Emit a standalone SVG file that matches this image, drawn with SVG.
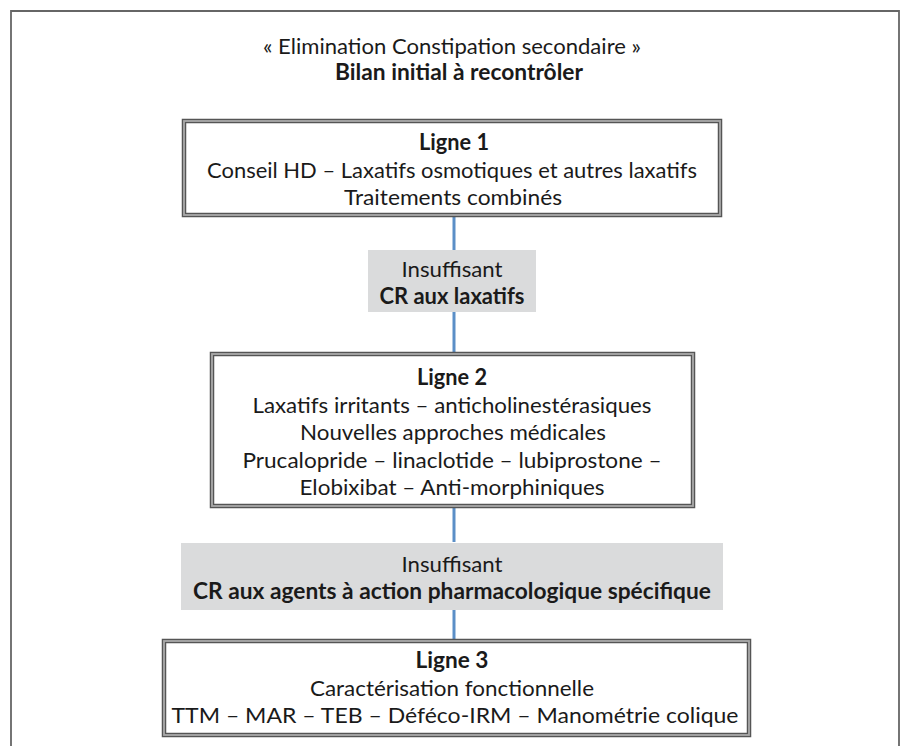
<svg xmlns="http://www.w3.org/2000/svg" width="906" height="746" viewBox="0 0 906 746">
<style>
text{font-family:Lato,"Open Sans","Liberation Sans",sans-serif;font-size:22px;fill:#1a1a1a;text-anchor:middle}
.b{font-weight:bold}
.box{fill:#fff;stroke:#555;stroke-width:4.5}
.boxin{fill:none;stroke:#aaa;stroke-width:1.8}
.grey{fill:#dadbdc}
.conn{stroke:#5b8fc7;stroke-width:3;fill:none}
</style>
<rect width="906" height="746" fill="#fff"/>
<path d="M11,760 V11 H899 V760" fill="none" stroke="#666" stroke-width="1.8"/>
<g id="title">
<text x="452" y="54" textLength="378" lengthAdjust="spacingAndGlyphs">« Elimination Constipation secondaire »</text>
<text class="b" x="459" y="80" textLength="248" lengthAdjust="spacingAndGlyphs">Bilan initial à recontrôler</text>
</g>
<g id="connectors">
<line class="conn" x1="454" y1="217" x2="454" y2="250"/>
<line class="conn" x1="454" y1="312" x2="454" y2="353"/>
<line class="conn" x1="454" y1="508" x2="454" y2="542"/>
<line class="conn" x1="454" y1="610" x2="454" y2="640"/>
</g>
<g id="ligne1">
<rect class="box" x="184" y="121" width="536" height="94"/>
<rect class="boxin" x="184" y="121" width="536" height="94"/>
<text class="b" x="454" y="150" textLength="70" lengthAdjust="spacingAndGlyphs">Ligne 1</text>
<text x="452" y="178" textLength="490" lengthAdjust="spacingAndGlyphs">Conseil HD – Laxatifs osmotiques et autres laxatifs</text>
<text x="453" y="205" textLength="218" lengthAdjust="spacingAndGlyphs">Traitements combinés</text>
</g>
<g id="insuffisant1">
<rect class="grey" x="368" y="250" width="168" height="62"/>
<text x="452" y="277" textLength="101" lengthAdjust="spacingAndGlyphs">Insuffisant</text>
<text class="b" x="452" y="304" textLength="145" lengthAdjust="spacingAndGlyphs">CR aux laxatifs</text>
</g>
<g id="ligne2">
<rect class="box" x="212" y="354" width="481" height="152"/>
<rect class="boxin" x="212" y="354" width="481" height="152"/>
<text class="b" x="452" y="385" textLength="70" lengthAdjust="spacingAndGlyphs">Ligne 2</text>
<text x="452" y="413" textLength="399" lengthAdjust="spacingAndGlyphs">Laxatifs irritants – anticholinestérasiques</text>
<text x="453" y="440" textLength="306" lengthAdjust="spacingAndGlyphs">Nouvelles approches médicales</text>
<text x="452" y="468" textLength="419" lengthAdjust="spacingAndGlyphs">Prucalopride – linaclotide – lubiprostone –</text>
<text x="452" y="495" textLength="305" lengthAdjust="spacingAndGlyphs">Elobixibat – Anti-morphiniques</text>
</g>
<g id="insuffisant2">
<rect class="grey" x="181" y="543" width="542" height="67"/>
<text x="452" y="572" textLength="101" lengthAdjust="spacingAndGlyphs">Insuffisant</text>
<text class="b" x="452" y="599" textLength="518" lengthAdjust="spacingAndGlyphs">CR aux agents à action pharmacologique spécifique</text>
</g>
<g id="ligne3">
<rect class="box" x="164" y="641" width="585" height="94"/>
<rect class="boxin" x="164" y="641" width="585" height="94"/>
<text class="b" x="452" y="668" textLength="73" lengthAdjust="spacingAndGlyphs">Ligne 3</text>
<text x="452" y="696" textLength="284" lengthAdjust="spacingAndGlyphs">Caractérisation fonctionnelle</text>
<text x="455" y="723" textLength="567" lengthAdjust="spacingAndGlyphs">TTM – MAR – TEB – Déféco-IRM – Manométrie colique</text>
</g>
</svg>
